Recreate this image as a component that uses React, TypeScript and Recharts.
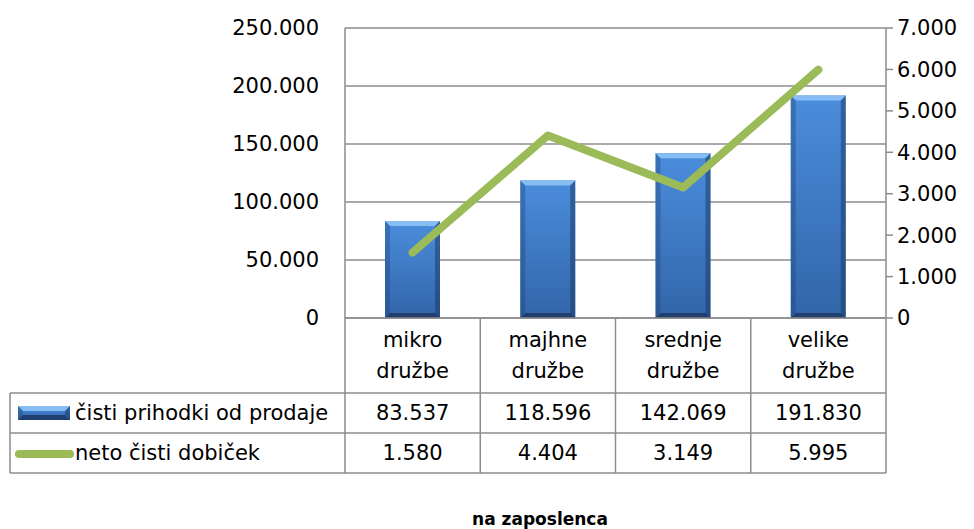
import React from 'react';
import {
  ComposedChart,
  Bar,
  Line,
  XAxis,
  YAxis,
  CartesianGrid,
} from 'recharts';

// Podatki na zaposlenca
const categories = ['mikro družbe', 'majhne družbe', 'srednje družbe', 'velike družbe'];
const revenue = [83537, 118596, 142069, 191830];
const profit = [1580, 4404, 3149, 5995];
const seriesNames = ['čisti prihodki od prodaje', 'neto čisti dobiček'];
const leftTicks = [0, 50000, 100000, 150000, 200000, 250000];
const rightTicks = [0, 1000, 2000, 3000, 4000, 5000, 6000, 7000];
const title = 'na zaposlenca';

const data = categories.map((name, i) => ({
  name,
  revenue: revenue[i],
  profit: profit[i],
}));

const W = 974;
const H = 529;
const PLOT_LEFT = 345;
const PLOT_RIGHT = 886;
const PLOT_BOTTOM = 318;
const ROW_TOP = 393;
const ROW_MID = 433;
const ROW_BOTTOM = 473;
const TABLE_LEFT = 10;
const GRID = '#8c8c8c';
const FONT = '"DejaVu Sans", sans-serif';
const FONT_SIZE = 21;

const fmt = (n: number) =>
  String(n).replace(/\B(?=(\d{3})+(?!\d))/g, '.');

const BevelBar = (props: any) => {
  const { x, y, width, height } = props;
  if (!height || height <= 0) return null;
  const b = 5;
  return (
    <g>
      <rect x={x} y={y} width={width} height={height} fill="url(#barBody)" />
      <polygon
        points={`${x},${y} ${x + width},${y} ${x + width - b},${y + b} ${x + b},${y + b}`}
        fill="#86bdf2"
      />
      <polygon
        points={`${x},${y} ${x + b},${y + b} ${x + b},${y + height - b} ${x},${y + height}`}
        fill="#1e3f70"
        fillOpacity={0.35}
      />
      <polygon
        points={`${x + width},${y} ${x + width - b},${y + b} ${x + width - b},${y + height - b} ${x + width},${y + height}`}
        fill="#173562"
        fillOpacity={0.5}
      />
      <polygon
        points={`${x},${y + height} ${x + b},${y + height - b} ${x + width - b},${y + height - b} ${x + width},${y + height}`}
        fill="#203f6e"
      />
    </g>
  );
};

// stolpec podatkovne tabele pod vsako kategorijo
const TableTick = (props: any) => {
  const { x, payload, index } = props;
  const band = (PLOT_RIGHT - PLOT_LEFT) / categories.length;
  const right = x + band / 2;
  const words = String(payload.value).split(' ');
  const i = index ?? categories.indexOf(payload.value);
  return (
    <g fontFamily={FONT} fontSize={FONT_SIZE} fill="#000">
      <line x1={right} y1={PLOT_BOTTOM} x2={right} y2={ROW_BOTTOM} stroke={GRID} strokeWidth={1.5} />
      <text x={x} y={347} textAnchor="middle">{words[0]}</text>
      <text x={x} y={378} textAnchor="middle">{words[1]}</text>
      <text x={x} y={420} textAnchor="middle">{fmt(revenue[i])}</text>
      <text x={x} y={460} textAnchor="middle">{fmt(profit[i])}</text>
    </g>
  );
};

export default function App() {
  return (
    <div style={{ position: 'absolute', left: 0, top: 0, width: W, height: H, background: '#fff' }}>
      <ComposedChart
        width={W}
        height={H}
        data={data}
        margin={{ top: 28, right: 0, bottom: 0, left: 0 }}
      >
        <defs>
          <linearGradient id="barBody" x1="0" y1="0" x2="0" y2="1">
            <stop offset="0%" stopColor="#4b8ddc" />
            <stop offset="100%" stopColor="#3265a9" />
          </linearGradient>
        </defs>
        <CartesianGrid yAxisId="left" vertical={false} stroke={GRID} strokeWidth={1.5} />
        <XAxis
          dataKey="name"
          height={H - PLOT_BOTTOM}
          axisLine={{ stroke: GRID, strokeWidth: 1.5 }}
          tickLine={false}
          tick={<TableTick />}
          interval={0}
        />
        <YAxis
          yAxisId="left"
          orientation="left"
          width={PLOT_LEFT}
          domain={[0, 250000]}
          ticks={leftTicks}
          tickFormatter={fmt}
          tickLine={false}
          tickMargin={20}
          axisLine={{ stroke: GRID, strokeWidth: 1.5 }}
          tick={{ fill: '#000', fontSize: FONT_SIZE, fontFamily: FONT }}
        />
        <YAxis
          yAxisId="right"
          orientation="right"
          width={W - PLOT_RIGHT}
          domain={[0, 7000]}
          ticks={rightTicks}
          tickFormatter={fmt}
          tickSize={7}
          tickMargin={4}
          tickLine={{ stroke: GRID, strokeWidth: 1.5 }}
          axisLine={{ stroke: GRID, strokeWidth: 1.5 }}
          tick={{ fill: '#000', fontSize: FONT_SIZE, fontFamily: FONT, textAnchor: 'start' }}
        />
        <Bar
          yAxisId="left"
          dataKey="revenue"
          barSize={55}
          shape={<BevelBar />}
          isAnimationActive={false}
        />
        <Line
          yAxisId="right"
          dataKey="profit"
          type="linear"
          stroke="#9bbb59"
          strokeWidth={8}
          strokeLinecap="round"
          strokeLinejoin="round"
          dot={false}
          activeDot={false}
          isAnimationActive={false}
        />
      </ComposedChart>
      <svg
        width={W}
        height={H}
        style={{ position: 'absolute', left: 0, top: 0, pointerEvents: 'none' }}
      >
        <g stroke={GRID} strokeWidth={1.5}>
          <line x1={PLOT_LEFT} y1={PLOT_BOTTOM} x2={PLOT_LEFT} y2={ROW_BOTTOM} />
          <line x1={TABLE_LEFT} y1={ROW_TOP} x2={PLOT_RIGHT} y2={ROW_TOP} />
          <line x1={TABLE_LEFT} y1={ROW_MID} x2={PLOT_RIGHT} y2={ROW_MID} />
          <line x1={TABLE_LEFT} y1={ROW_BOTTOM} x2={PLOT_RIGHT} y2={ROW_BOTTOM} />
          <line x1={TABLE_LEFT} y1={ROW_TOP} x2={TABLE_LEFT} y2={ROW_BOTTOM} />
        </g>
        <BevelBar x={18} y={406} width={52} height={14} />
        <line x1={19} y1={454} x2={70} y2={454} stroke="#9bbb59" strokeWidth={8} strokeLinecap="round" />
        <g fontFamily={FONT} fontSize={FONT_SIZE} fill="#000">
          <text x={75} y={420}>{seriesNames[0]}</text>
          <text x={75} y={460}>{seriesNames[1]}</text>
        </g>
        <text
          x={540}
          y={525}
          textAnchor="middle"
          fontFamily={FONT}
          fontWeight="bold"
          fontSize={17}
          fill="#000"
        >
          {title}
        </text>
      </svg>
    </div>
  );
}
